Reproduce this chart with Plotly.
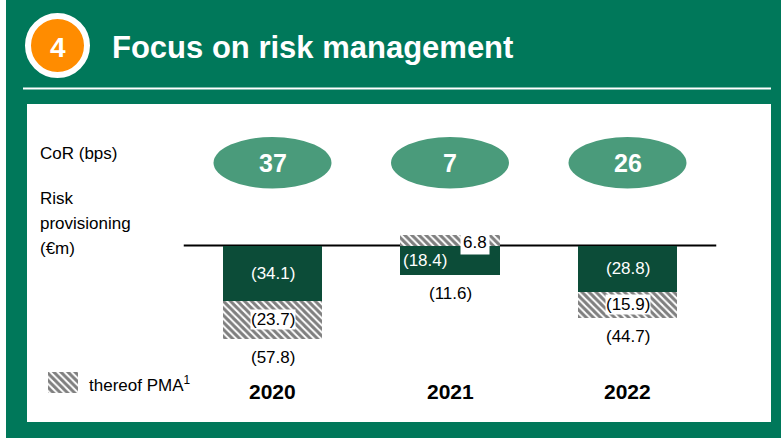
import plotly.graph_objects as go

# ---------------- data ----------------
years = ["2020", "2021", "2022"]
cor_bps = [37, 7, 26]
core_provisions = [-34.1, -18.4, -28.8]
pma_provisions = [-23.7, 6.8, -15.9]
totals = [-57.8, -11.6, -44.7]
legend_label = "thereof PMA<sup>1</sup>"
title_text = "Focus on risk management"
section_number = "4"
row_label_cor = "CoR (bps)"
row_label_risk = ["Risk", "provisioning", "(€m)"]

# ---------------- styling / layout constants ----------------
W, H = 781, 438
GREEN = "#00785A"
DARK = "#0C4C38"
ELL = "#4A9B7B"
ORANGE = "#FF8C00"
FONT = "Liberation Sans, Arial, sans-serif"

X0_PX, X_STEP = 272.5, 177.5        # pixel of first category, category spacing
ZERO_PX, Y_SCALE = 245.5, 1.615      # pixel of zero line, px per €m
BAR_W = 0.558
LBL = 17

xr = [-X0_PX / X_STEP, (W - X0_PX) / X_STEP]
yr = [(ZERO_PX - H) / Y_SCALE, ZERO_PX / Y_SCALE]


def pxx(x):
    return x / W


def pyy(y):
    return 1 - y / H


xs = list(range(len(years)))
pattern = dict(shape="\\", fgcolor="black", bgcolor="white", size=5, solidity=0.6)

fig = go.Figure()
fig.add_trace(go.Bar(x=xs, y=core_provisions, width=BAR_W,
                     marker=dict(color=DARK, line=dict(width=0)),
                     hoverinfo="skip", showlegend=False))
fig.add_trace(go.Bar(x=xs, y=pma_provisions, width=BAR_W,
                     marker=dict(color="white", line=dict(width=0), pattern=pattern),
                     hoverinfo="skip", showlegend=False))
# legend swatch on a pixel overlay axis
fig.add_trace(go.Bar(x=[63], y=[21], base=[372], width=30, xaxis="x2", yaxis="y2",
                     marker=dict(color="white", line=dict(width=0), pattern=pattern),
                     hoverinfo="skip", showlegend=False))

shapes = [
    dict(type="rect", xref="paper", yref="paper", x0=pxx(6), x1=1, y0=0, y1=1,
         fillcolor=GREEN, line=dict(width=0), layer="below"),
    dict(type="rect", xref="paper", yref="paper", x0=pxx(27), x1=pxx(771), y0=pyy(422), y1=pyy(104),
         fillcolor="white", line=dict(width=0), layer="below"),
    dict(type="line", xref="paper", yref="paper", x0=pxx(23), x1=pxx(771), y0=pyy(88.5), y1=pyy(88.5),
         line=dict(color="white", width=2), layer="below"),
    dict(type="circle", xref="paper", yref="paper", x0=pxx(57.5 - 29.5), x1=pxx(57.5 + 29.5),
         y0=pyy(45.5 + 29.5), y1=pyy(45.5 - 29.5),
         fillcolor=ORANGE, line=dict(color="white", width=6), layer="below"),
    dict(type="line", xref="x", yref="y", x0=-0.5, x1=2.5, y0=0, y1=0,
         line=dict(color="black", width=2), layer="below"),
]
ell_w = 118 / X_STEP
for i in xs:
    shapes.append(dict(type="circle", xref="x", yref="paper",
                       x0=i - ell_w / 2, x1=i + ell_w / 2, y0=pyy(188.5), y1=pyy(137),
                       fillcolor=ELL, line=dict(width=0), layer="below"))


def fmt(v):
    return f"({abs(v):.1f})" if v < 0 else f"{v:.1f}"


def A(**kw):
    d = dict(showarrow=False, xanchor="center", yanchor="middle")
    d.update(kw)
    return d


ann = []
ann.append(A(x=pxx(57.5), y=pyy(47), xref="paper", yref="paper", text=f"<b>{section_number}</b>",
             font=dict(family=FONT, size=28, color="white")))
ann.append(A(x=pxx(110), y=pyy(47), xref="paper", yref="paper", text=f"<b>{title_text}</b>",
             xanchor="left", font=dict(family=FONT, size=31, color="white")))
ann.append(A(x=pxx(38), y=pyy(153), xref="paper", yref="paper", text=row_label_cor,
             xanchor="left", font=dict(family=FONT, size=LBL, color="black")))
for k, line in enumerate(row_label_risk):
    ann.append(A(x=pxx(38), y=pyy(198 + 25 * k), xref="paper", yref="paper", text=line,
                 xanchor="left", font=dict(family=FONT, size=LBL, color="black")))
ann.append(A(x=pxx(87), y=pyy(384), xref="paper", yref="paper", text=legend_label,
             xanchor="left", font=dict(family=FONT, size=LBL, color="black")))

for i in xs:
    ann.append(A(x=i, y=pyy(163), xref="x", yref="paper", text=f"<b>{cor_bps[i]}</b>",
                 font=dict(family=FONT, size=25, color="white")))
    ann.append(A(x=i, y=pyy(391), xref="x", yref="paper", text=f"<b>{years[i]}</b>",
                 font=dict(family=FONT, size=21, color="black")))
    c, p = core_provisions[i], pma_provisions[i]
    if p > 0:
        ann.append(A(x=i - BAR_W / 2, y=c / 2, xref="x", yref="y", text=fmt(c), xanchor="left",
                     xshift=1, font=dict(family=FONT, size=LBL, color="white")))
        ann.append(A(x=i + BAR_W / 2, y=p / 2, xref="x", yref="y", text=fmt(p), xanchor="right",
                     xshift=-10, yshift=-2, bgcolor="white", borderpad=2,
                     font=dict(family=FONT, size=LBL, color="black")))
        low = c
    else:
        ann.append(A(x=i, y=c / 2, xref="x", yref="y", text=fmt(c),
                     font=dict(family=FONT, size=LBL, color="white")))
        ann.append(A(x=i, y=c + p / 2, xref="x", yref="y", text=fmt(p),
                     bgcolor="white", borderpad=0,
                     font=dict(family=FONT, size=LBL, color="black")))
        low = c + p
    ann.append(A(x=i, y=low, xref="x", yref="y", text=fmt(totals[i]), yanchor="top", yshift=-7,
                 font=dict(family=FONT, size=LBL, color="black")))

fig.update_layout(
    width=W, height=H, autosize=False,
    margin=dict(l=0, r=0, t=0, b=0, pad=0),
    paper_bgcolor="white", plot_bgcolor="rgba(0,0,0,0)",
    barmode="relative", bargap=0,
    xaxis=dict(range=xr, visible=False, fixedrange=True),
    yaxis=dict(range=yr, visible=False, fixedrange=True),
    xaxis2=dict(range=[0, W], visible=False, overlaying="x", fixedrange=True),
    yaxis2=dict(range=[H, 0], visible=False, overlaying="y", fixedrange=True),
    shapes=shapes, annotations=ann, showlegend=False,
)

fig.write_html(
    "out.html",
    config={"displayModeBar": False},
    post_script="document.body.style.margin='0';document.body.style.overflow='hidden';",
)
